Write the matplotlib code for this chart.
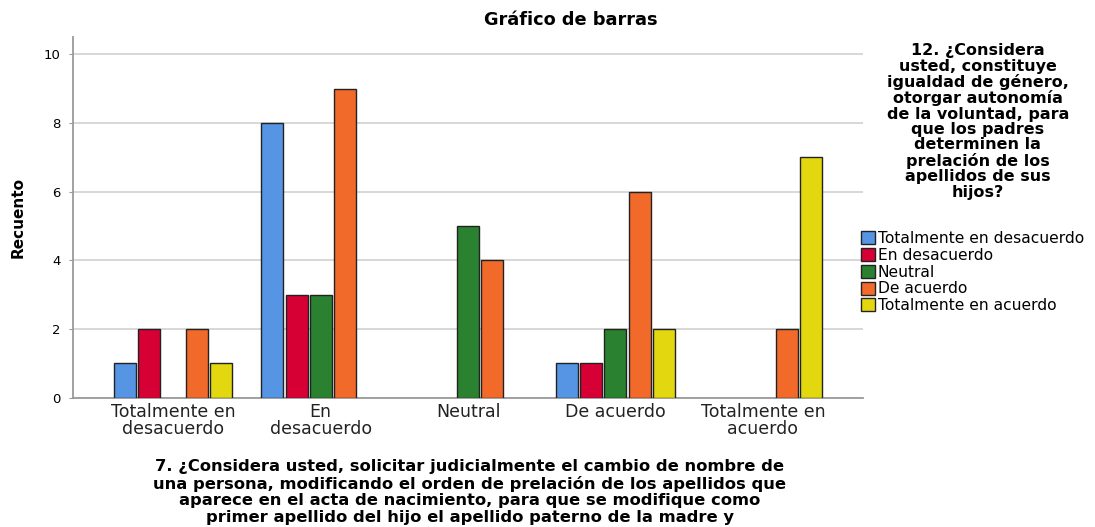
import numpy as np
import matplotlib
matplotlib.use("Agg")
import matplotlib.pyplot as plt

plt.rcParams['font.family'] = ['DejaVu Sans']

categories = ["Totalmente en\ndesacuerdo", "En\ndesacuerdo", "Neutral",
              "De acuerdo", "Totalmente en\nacuerdo"]
series = ["Totalmente en desacuerdo", "En desacuerdo", "Neutral",
          "De acuerdo", "Totalmente en acuerdo"]
# counts per series (rows) across x categories (columns); 0 = no bar
counts = [
    [1, 8, 0, 1, 0],   # Totalmente en desacuerdo
    [2, 3, 0, 1, 0],   # En desacuerdo
    [0, 3, 5, 2, 0],   # Neutral
    [2, 9, 4, 6, 2],   # De acuerdo
    [1, 0, 0, 2, 7],   # Totalmente en acuerdo
]
colors = ["#5595E3", "#D70034", "#2A8230", "#F26A2A", "#E3D80F"]

legend_title = ("12. ¿Considera\nusted, constituye\nigualdad de género,\n"
                "otorgar autonomía\nde la voluntad, para\nque los padres\n"
                "determinen la\nprelación de los\napellidos de sus\nhijos?")
xlabel = ("7. ¿Considera usted, solicitar judicialmente el cambio de nombre de\n"
          "una persona, modificando el orden de prelación de los apellidos que\n"
          "aparece en el acta de nacimiento, para que se modifique como\n"
          "primer apellido del hijo el apellido paterno de la madre y")

fig = plt.figure(figsize=(10.95, 5.27), dpi=100)
ax = fig.add_axes([0.0667, 0.2457, 0.7215, 0.684])

x = np.arange(len(categories))
slot = 0.1635
width = 0.149
handles = []
for i, (name, vals, c) in enumerate(zip(series, counts, colors)):
    pos = x + (i - 2) * slot
    v = np.array(vals, dtype=float)
    keep = v > 0
    b = ax.bar(pos[keep], v[keep], width=width, color=c,
               edgecolor="#222222", linewidth=1.0, zorder=3, label=name)
    handles.append(b)

ax.set_xlim(-0.68, 4.68)
ax.set_ylim(0, 10.5)
ax.set_yticks([0, 2, 4, 6, 8, 10])
ax.yaxis.grid(True, color="#D4D4D4", linewidth=1.3, zorder=0)
ax.set_axisbelow(True)
for s in ["top", "right"]:
    ax.spines[s].set_visible(False)
for s in ["left", "bottom"]:
    ax.spines[s].set_color("#9A9A9A")
    ax.spines[s].set_linewidth(1.3)
ax.tick_params(axis="y", length=3, color="#9A9A9A", labelsize=9.5, pad=6)
ax.tick_params(axis="x", length=0, labelsize=12.5, pad=4)
ax.set_xticks(x)
ax.set_xticklabels(categories, linespacing=0.95, color="#222222")

fig.text(0.0165, 0.588, "Recuento", rotation=90, fontsize=11, fontweight="bold",
         ha="center", va="center")
fig.text(0.521, 0.962, "Gráfico de barras", fontsize=12.8, fontweight="bold",
         ha="center", va="center")
fig.text(0.429, 0.004, xlabel, fontsize=11.8, fontweight="bold", ha="center",
         va="bottom", linespacing=1.12, multialignment="center")
fig.text(0.893, 0.918, legend_title, fontsize=11.5, fontweight="bold",
         ha="center", va="top", linespacing=1.03, multialignment="center")

fig.legend(handles=handles, loc="upper left", bbox_to_anchor=(0.786, 0.562),
           frameon=False, fontsize=11.2, handlelength=0.9, handleheight=0.9,
           handletextpad=0.2, labelspacing=0.12, borderaxespad=0, borderpad=0)

fig.savefig("out.png", dpi=100)
